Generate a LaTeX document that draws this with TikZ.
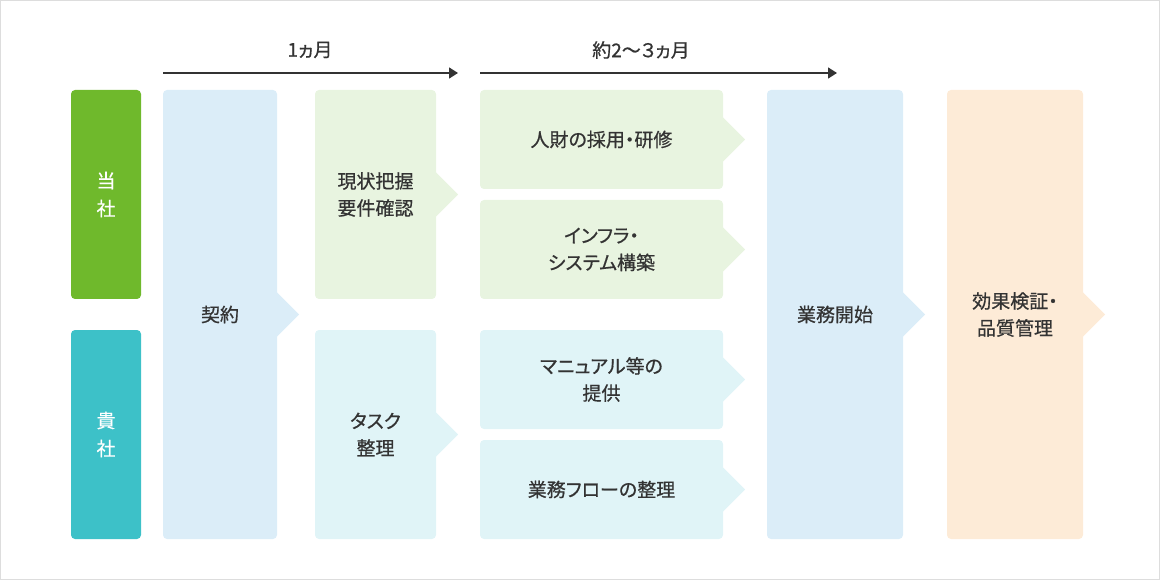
\documentclass[tikz,border=0pt]{standalone}
\usepackage{fontspec}
\setmainfont{Noto Sans CJK JP}[RawFeature=+palt]
\newfontfamily\jpmed{Noto Sans CJK JP}[RawFeature=+palt, FakeBold=0.7]
\newfontfamily\jplight{Noto Sans CJK JP}[RawFeature=+palt, FakeBold=0.35]
\usetikzlibrary{arrows.meta,calc}
\definecolor{txt}{HTML}{333333}
\definecolor{cgreen}{HTML}{6FB92C}
\definecolor{cteal}{HTML}{3DC1C8}
\definecolor{cblue}{HTML}{DBEDF8}
\definecolor{clgreen}{HTML}{E8F4E0}
\definecolor{ccyan}{HTML}{E0F4F7}
\definecolor{corange}{HTML}{FDEBD7}
\definecolor{cborder}{HTML}{DDDDDD}
\begin{document}
\begin{tikzpicture}[x=1pt,y=-1pt,
  every node/.style={font=\fontsize{19}{27}\selectfont\jpmed, text=txt, align=center, inner sep=0pt, outer sep=0pt},
  box/.style={rectangle, rounded corners=4pt, draw=none},
  party/.style={box, text=white, font=\fontsize{19}{28}\selectfont\jplight, minimum width=70pt, minimum height=209pt},
  timeline/.style={draw=txt, line width=1.6pt, -{Triangle[length=9pt,width=11pt]}},
]
\draw[cborder, line width=1pt] (0.5,0.5) rectangle (1159.5,579.5);
\useasboundingbox (0,0) rectangle (1160,580);

% party labels
\node[party, fill=cgreen] (tosha) at (106,194.5) {当\\社};
\node[party, fill=cteal] (kisha) at (106,434.5) {貴\\社};

% main boxes
\node[box, fill=cblue, minimum width=114pt, minimum height=449pt] (keiyaku) at (220,314.5) {契約};
\node[box, fill=clgreen, minimum width=121pt, minimum height=209pt] (genjo) at (375.5,194.5) {現状把握\\要件確認};
\node[box, fill=ccyan, minimum width=121pt, minimum height=209pt] (task) at (375.5,434.5) {タスク\\整理};
\node[box, fill=clgreen, minimum width=243pt, minimum height=99pt] (jinzai) at (601.5,139.5) {人財の採用・研修};
\node[box, fill=clgreen, minimum width=243pt, minimum height=99pt] (infra) at (601.5,249.5) {インフラ・\\システム構築};
\node[box, fill=ccyan, minimum width=243pt, minimum height=99pt] (manual) at (601.5,379.5) {マニュアル等の\\提供};
\node[box, fill=ccyan, minimum width=243pt, minimum height=99pt] (flow) at (601.5,489.5) {業務フローの整理};
\node[box, fill=cblue, minimum width=136pt, minimum height=449pt] (kaishi) at (835,314.5) {業務開始};
\node[box, fill=corange, minimum width=136pt, minimum height=449pt] (koka) at (1015,314.5) {効果検証・\\品質管理};

% arrow notches
\foreach \n/\c in {keiyaku/cblue, genjo/clgreen, task/ccyan, jinzai/clgreen, infra/clgreen, manual/ccyan, flow/ccyan, kaishi/cblue, koka/corange}{
  \fill[\c] ($(\n.east)+(0,-22)$) -- ($(\n.east)+(22,0)$) -- ($(\n.east)+(0,22)$) -- cycle;
}

% timeline
\coordinate (t1s) at (163,73);
\coordinate (t1e) at (458,73);
\coordinate (t2s) at (480,73);
\coordinate (t2e) at (837,73);
\draw[timeline] (t1s) -- (t1e);
\draw[timeline] (t2s) -- (t2e);
\node (l1) at (310,50) {1ヵ月};
\node (l2) at (641,50) {約2〜３ヵ月};
\end{tikzpicture}
\end{document}
